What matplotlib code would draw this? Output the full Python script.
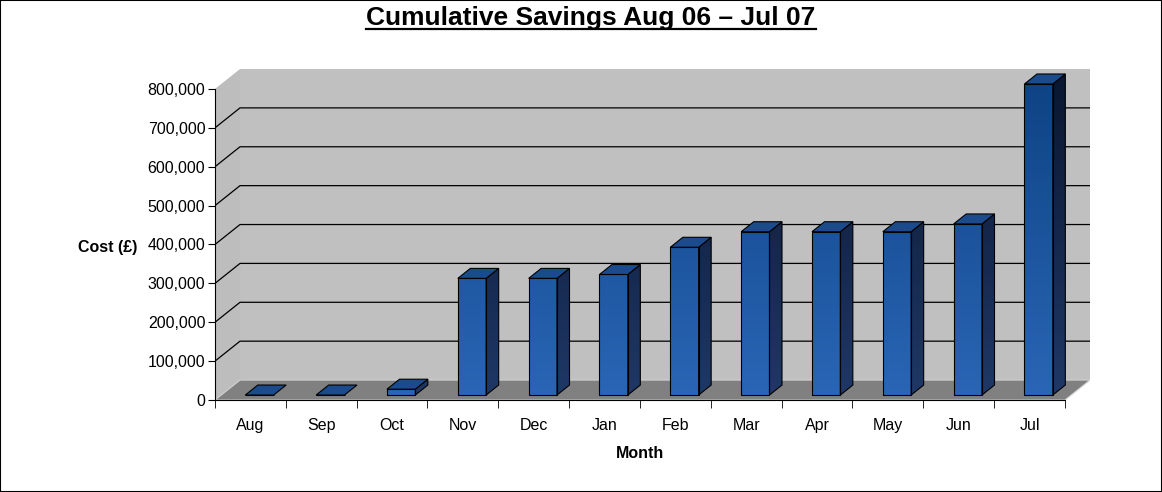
"""
Cumulative savings bar chart, Excel style 3D bars
"""

###############################################################################
# Libraries
import numpy as np
import matplotlib.pyplot as plt
from matplotlib.patches import Polygon, Rectangle
from matplotlib.lines import Line2D
from matplotlib.colors import LinearSegmentedColormap

plt.rcParams['font.family'] = ['Liberation Sans', 'DejaVu Sans']

####################################
# Data
months = ['Aug', 'Sep', 'Oct', 'Nov', 'Dec', 'Jan',
          'Feb', 'Mar', 'Apr', 'May', 'Jun', 'Jul']
savings = [0, 0, 15000, 300000, 300000, 310000,
           380000, 420000, 420000, 420000, 440000, 800000]
yticks = [0, 100000, 200000, 300000, 400000, 500000, 600000, 700000, 800000]

####################################
# 3D look
n = len(months)
ymax = yticks[-1]
dx = 0.353      # depth offset (category units)
dy = 51300      # depth offset (value units)
w = 0.40        # bar width
top = ymax + dy

front_cmap = LinearSegmentedColormap.from_list('front', ['#2A66B6', '#0D4282'])
side_cmap = LinearSegmentedColormap.from_list('side', ['#1F3866', '#0A1630'])

fig = plt.figure(figsize=(11.62, 4.92), dpi=100)
ax = fig.add_axes([215/1162, 92/492, 875/1162, 331/492])

# walls and floor
ax.add_patch(Polygon([(-0.5 + dx, dy), (n - 0.5 + dx, dy), (n - 0.5 + dx, top), (-0.5 + dx, top)],
                     closed=True, facecolor='#C0C0C0', edgecolor='none', zorder=0))
ax.add_patch(Polygon([(-0.5, 0), (-0.5 + dx, dy), (-0.5 + dx, top), (-0.5, ymax)],
                     closed=True, facecolor='#BDBDBD', edgecolor='none', zorder=0))
ax.add_patch(Polygon([(-0.5, 0), (n - 0.5, 0), (n - 0.5 + dx, dy), (-0.5 + dx, dy)],
                     closed=True, facecolor='#808080', edgecolor='#D0D0D0', lw=0.8, zorder=0))

# gridlines
for v in yticks[1:-1]:
    ax.plot([-0.5, -0.5 + dx, n - 0.5 + dx], [v, v + dy, v + dy], color='black', lw=0.9, zorder=1)

# bars
xs = np.arange(n) + 0.25*dx + 0.04
y0 = 0.25*dy
bars = ax.bar(xs, savings, width=w, bottom=y0, facecolor='none', edgecolor='black', lw=0.8, zorder=4)
for b, v in zip(bars, savings):
    x0 = b.get_x()
    if v > 0:
        grad = np.linspace(y0 + v, y0, 60)[:, None]
        im = ax.imshow(grad, cmap=front_cmap, vmin=0, vmax=top, aspect='auto',
                       extent=(x0, x0 + w, y0, y0 + v), zorder=3)
        im.set_clip_path(b)
        side = Polygon([(x0 + w, y0), (x0 + w + 0.5*dx, y0 + 0.5*dy),
                        (x0 + w + 0.5*dx, y0 + v + 0.5*dy), (x0 + w, y0 + v)],
                       closed=True, facecolor='none', edgecolor='black', lw=0.8, zorder=4)
        ax.add_patch(side)
        grad = np.linspace(y0 + v + 0.5*dy, y0, 60)[:, None]
        im = ax.imshow(grad, cmap=side_cmap, vmin=0, vmax=top, aspect='auto',
                       extent=(x0 + w, x0 + w + 0.5*dx, y0, y0 + v + 0.5*dy), zorder=3)
        im.set_clip_path(side)
    ax.add_patch(Polygon([(x0, y0 + v), (x0 + w, y0 + v), (x0 + w + 0.5*dx, y0 + v + 0.5*dy),
                          (x0 + 0.5*dx, y0 + v + 0.5*dy)],
                         closed=True, facecolor='#1B4B8C', edgecolor='black', lw=0.8, zorder=4))

ax.set_xlim(-0.5, n - 0.5 + dx)
ax.set_ylim(0, top)

####################################
# Axes
for s in ['top', 'right']:
    ax.spines[s].set_visible(False)
ax.spines['left'].set_bounds(0, ymax)
ax.spines['bottom'].set_bounds(-0.5, n - 0.5)
ax.spines['left'].set_zorder(5)
ax.spines['bottom'].set_zorder(5)
ax.set_yticks(yticks, ['{:,}'.format(v) for v in yticks], fontsize=11.5)
ax.set_xticks(range(n), months, fontsize=11.5)
ax.set_xticks(np.arange(-0.5, n), minor=True)
ax.tick_params(axis='x', which='major', length=0, pad=13)
ax.tick_params(axis='x', which='minor', length=6, direction='out')
ax.tick_params(axis='y', length=5, direction='out', pad=2)

fig.text(108/1162, 1 - 247/492, 'Cost (£)', ha='center', va='center', fontsize=11.5, weight='bold')
fig.text(640/1162, 1 - 453/492, 'Month', ha='center', va='center', fontsize=11.5, weight='bold')
t = fig.text(591/1162, 1 - 18/492, 'Cumulative Savings Aug 06 – Jul 07',
             ha='center', va='center', fontsize=19, weight='bold')

fig.canvas.draw()
bb = t.get_window_extent()
fig.add_artist(Line2D([bb.x0, bb.x1], [bb.y0 + 1, bb.y0 + 1], color='black', lw=1.6,
                      transform=None))
fig.add_artist(Rectangle((0, 0), 1, 1, transform=fig.transFigure, fill=False,
                         edgecolor='black', lw=1.5))

plt.savefig('out.png', dpi=100)
